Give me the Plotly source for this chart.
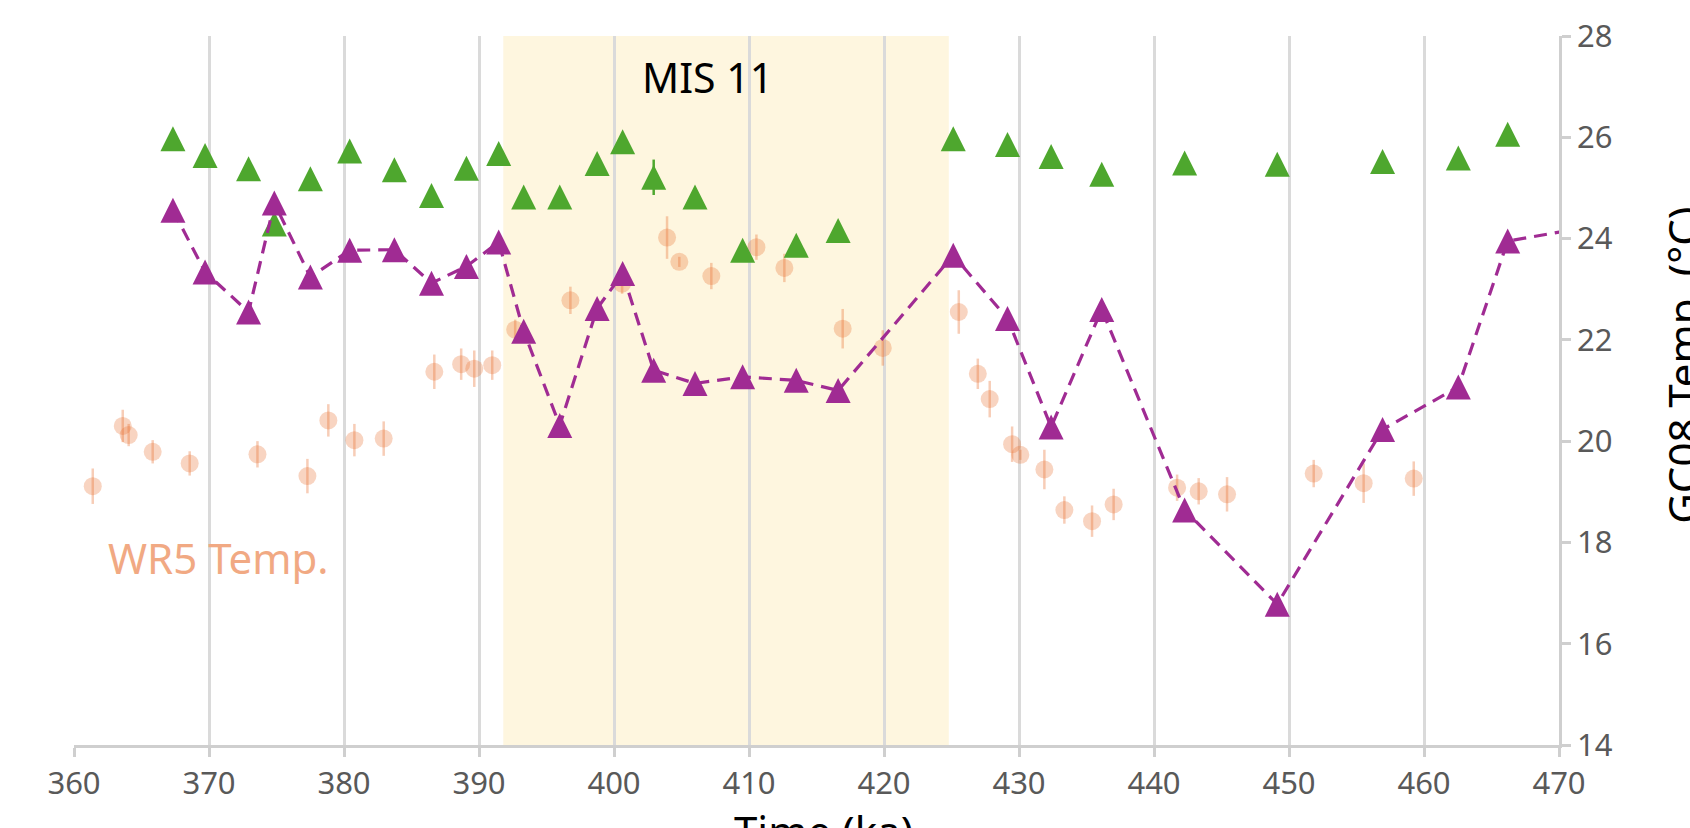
import plotly.graph_objects as go

# ---- GC08 record (two series on a common age model) ----
gc08_age = [367.33, 369.71, 372.93, 374.84, 377.51, 380.42, 383.73, 386.48, 389.07,
            391.46, 393.31, 395.98, 398.75, 400.64, 402.94, 406.0, 409.53, 413.5,
            416.6, 425.13, 429.15, 432.38, 436.13, 442.27, 449.13, 456.93, 462.54, 466.2]
gc08_green = [25.97, 25.64, 25.38, 24.29, 25.18, 25.73, 25.36, 24.85, 25.39,
              25.68, 24.82, 24.82, 25.48, 25.91, 25.21, 24.82, 23.77, 23.87,
              24.16, 25.97, 25.86, 25.62, 25.27, 25.49, 25.47, 25.52, 25.59, 26.06]
gc08_green_err = [0, 0, 0, 0, 0, 0, 0, 0, 0, 0, 0, 0, 0, 0, 0.35, 0, 0, 0,
                  0, 0, 0, 0, 0, 0, 0, 0, 0, 0]
gc08_purple = [24.56, 23.34, 22.55, 24.70, 23.24, 23.77, 23.78, 23.12, 23.45,
               23.93, 22.17, 20.31, 22.62, 23.31, 21.40, 21.14, 21.27, 21.20,
               21.00, 23.67, 22.42, 20.28, 22.60, 18.64, 16.78, 20.23, 21.07, 23.95]
# next sample beyond the plotted window (the line runs off the right edge)
purple_next_age = 472.0
purple_next_temp = 24.22

# ---- WR5 temperature with 1-sigma errors ----
wr5_age = [361.39, 363.61, 364.05, 365.83, 368.57, 373.59, 377.29, 378.84, 380.77,
           382.94, 386.69, 388.68, 389.65, 390.98, 392.68, 396.77, 400.6, 403.93,
           404.84, 407.21, 410.55, 412.62, 416.94, 419.91, 425.54, 426.95, 427.83,
           429.49, 430.1, 431.88, 433.36, 435.41, 437.01, 441.71, 443.31, 445.41,
           451.83, 455.53, 459.24]
wr5_temp = [19.11, 20.30, 20.12, 19.79, 19.56, 19.74, 19.31, 20.41, 20.02,
            20.05, 21.37, 21.52, 21.43, 21.50, 22.20, 22.78, 23.11, 24.02,
            23.54, 23.26, 23.83, 23.42, 22.22, 21.84, 22.55, 21.33, 20.83,
            19.94, 19.73, 19.44, 18.64, 18.42, 18.75, 19.08, 19.01, 18.95,
            19.36, 19.17, 19.26]
wr5_err = [0.35, 0.32, 0.22, 0.23, 0.24, 0.26, 0.34, 0.32, 0.32,
           0.34, 0.34, 0.31, 0.36, 0.29, 0.20, 0.27, 0.20, 0.42,
           0.10, 0.26, 0.25, 0.28, 0.39, 0.35, 0.43, 0.30, 0.36,
           0.35, 0.10, 0.39, 0.27, 0.31, 0.31, 0.26, 0.26, 0.34,
           0.27, 0.39, 0.34]

# Marine isotope stage 11 interval (ka)
mis11_start, mis11_end = 391.8, 424.8

x_ticks = list(range(360, 471, 10))
y_ticks = list(range(14, 29, 2))

GREEN = "#4EA72E"
PURPLE = "#A02B93"
ORANGE = "rgba(233,113,50,0.30)"
FONT = "Noto Sans"

TRI = 25
# upward triangle centred on the point (as tall as it is wide)
tri_marker = dict(symbol="arrow-down", angle=180, standoff=TRI / 2, size=TRI)

fig = go.Figure()

fig.add_trace(go.Scatter(
    x=wr5_age, y=wr5_temp, mode="markers",
    marker=dict(size=18, color=ORANGE, line=dict(width=0)),
    error_y=dict(type="data", array=wr5_err, visible=True,
                 color="rgba(233,113,50,0.35)", thickness=2.5, width=0),
    showlegend=False,
))

fig.add_trace(go.Scatter(
    x=gc08_age, y=gc08_green, mode="markers",
    marker=dict(color=GREEN, **tri_marker),
    error_y=dict(type="data", array=gc08_green_err, visible=True,
                 color=GREEN, thickness=2.5, width=0),
    showlegend=False,
))

fig.add_trace(go.Scatter(
    x=gc08_age + [purple_next_age], y=gc08_purple + [purple_next_temp],
    mode="lines", line=dict(color=PURPLE, width=3.2, dash="13px,8px"),
    showlegend=False,
))
fig.add_trace(go.Scatter(
    x=gc08_age, y=gc08_purple, mode="markers",
    marker=dict(color=PURPLE, **tri_marker),
    showlegend=False,
))

fig.add_shape(type="rect", xref="x", yref="paper",
              x0=mis11_start, x1=mis11_end, y0=0, y1=1,
              fillcolor="#FEF6DF", line=dict(width=0), layer="below")

fig.add_annotation(x=406.9, y=27.2, xref="x", yref="y", text="MIS 11",
                   showarrow=False, xanchor="center", yanchor="middle",
                   font=dict(family=FONT, size=41, color="black"))
fig.add_annotation(x=362.4, y=17.71, xref="x", yref="y", text="WR5 Temp.",
                   showarrow=False, xanchor="left", yanchor="middle",
                   font=dict(family=FONT, size=42, color="#F1A983"))

# axis titles, placed at the page edges
fig.add_annotation(x=0.5047, y=-0.078, xref="paper", yref="paper", text="Time (ka)",
                   showarrow=False, xanchor="center", yanchor="top",
                   font=dict(family=FONT, size=42, color="black"))
fig.add_annotation(x=1.0630, y=0.535, xref="paper", yref="paper", text="GC08 Temp. (°C)",
                   textangle=-90, showarrow=False, xanchor="left", yanchor="middle",
                   font=dict(family=FONT, size=42, color="black"))

axis_grey = "#CFCFCF"
fig.update_layout(
    width=1690, height=828,
    margin=dict(l=74, r=131, t=36, b=83, autoexpand=False),
    paper_bgcolor="white", plot_bgcolor="white",
    font=dict(family=FONT),
    xaxis=dict(
        range=[360, 470], tickvals=x_ticks, automargin=False,
        showgrid=True, gridcolor="#DADADA", gridwidth=2.5,
        zeroline=False, showline=True, linecolor=axis_grey, linewidth=2.5,
        ticks="outside", ticklen=9, tickwidth=2.5, tickcolor=axis_grey,
        tickfont=dict(family=FONT, size=31, color="#595959"),
    ),
    yaxis=dict(
        side="right", range=[14, 28], tickvals=y_ticks, automargin=False,
        showgrid=False, zeroline=False, showline=True,
        linecolor=axis_grey, linewidth=2.5,
        ticks="outside", ticklen=9, tickwidth=2.5, tickcolor=axis_grey,
        tickfont=dict(family=FONT, size=31, color="#595959"),
    ),
)

fig.write_html("out.html")
